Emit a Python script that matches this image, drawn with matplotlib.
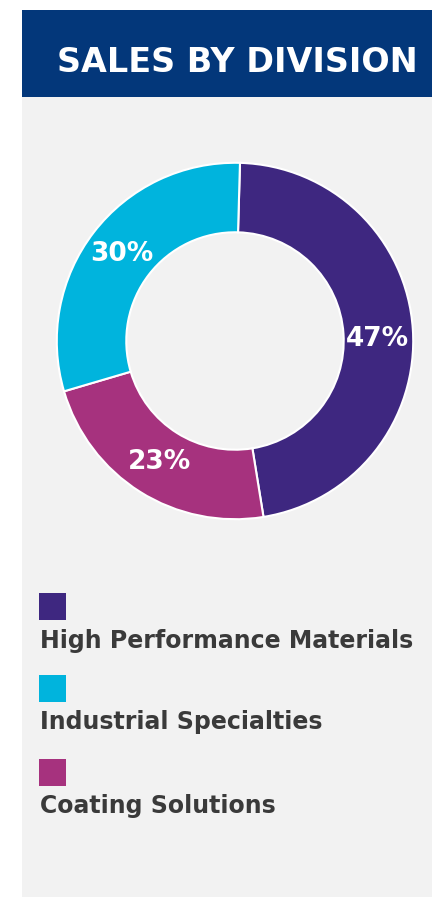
import matplotlib.pyplot as plt
from matplotlib.patches import Rectangle

# Sales share by division
divisions = ['High Performance Materials', 'Coating Solutions', 'Industrial Specialties']
shares = [47, 23, 30]
colors = ['#3e2780', '#a6327e', '#00b4dd']

# legend order as shown in the panel
legend_order = ['High Performance Materials', 'Industrial Specialties', 'Coating Solutions']

W, H = 432, 897
fig = plt.figure(figsize=(W / 100, H / 100), dpi=100)
fig.patch.set_facecolor('white')


def fx(px):
    return px / W


def fy(py):
    return 1 - py / H


# background panel and header bar (kept below the donut axes)
fig.patches.append(Rectangle((fx(22), 0), fx(432) - fx(22), fy(97), transform=fig.transFigure,
                             facecolor='#f2f2f2', edgecolor='none', zorder=-2))
fig.patches.append(Rectangle((fx(22), fy(97)), fx(432) - fx(22), fy(10) - fy(97), transform=fig.transFigure,
                             facecolor='#03377a', edgecolor='none', zorder=-2))
fig.text(fx(57), fy(72), 'SALES BY DIVISION', color='white', fontsize=24, fontweight='bold',
         ha='left', va='baseline', family='DejaVu Sans')

# donut
ax = fig.add_axes([fx(55), fy(521), fx(360), 360 / H])
ax.set_facecolor('none')
wedges, texts, autotexts = ax.pie(
    shares, colors=colors, startangle=88.4, counterclock=False, radius=1,
    autopct='%d%%', pctdistance=0.8,
    wedgeprops=dict(width=0.39, edgecolor='white', linewidth=1.5),
    textprops=dict(color='white', fontsize=19, fontweight='bold'))
# the 47% label sits a little lower in the original
x, y = autotexts[0].get_position()
autotexts[0].set_position((x, y - 0.04))
ax.set_xlim(-1.01, 1.01)
ax.set_ylim(-1.01, 1.01)
ax.set_aspect('equal')
ax.axis('off')

# legend: square above label
sq_top = [593, 675, 759]
txt_base = [648, 729, 813]
for name, top, base in zip(legend_order, sq_top, txt_base):
    c = colors[divisions.index(name)]
    fig.patches.append(Rectangle((fx(39), fy(top + 27)), fx(27), 27 / H, transform=fig.transFigure,
                                 facecolor=c, edgecolor='none'))
    fig.text(fx(40), fy(base), name, color='#3a3a3a', fontsize=17, fontweight='bold',
             ha='left', va='baseline', family='DejaVu Sans')

fig.savefig('out.png', dpi=100)
